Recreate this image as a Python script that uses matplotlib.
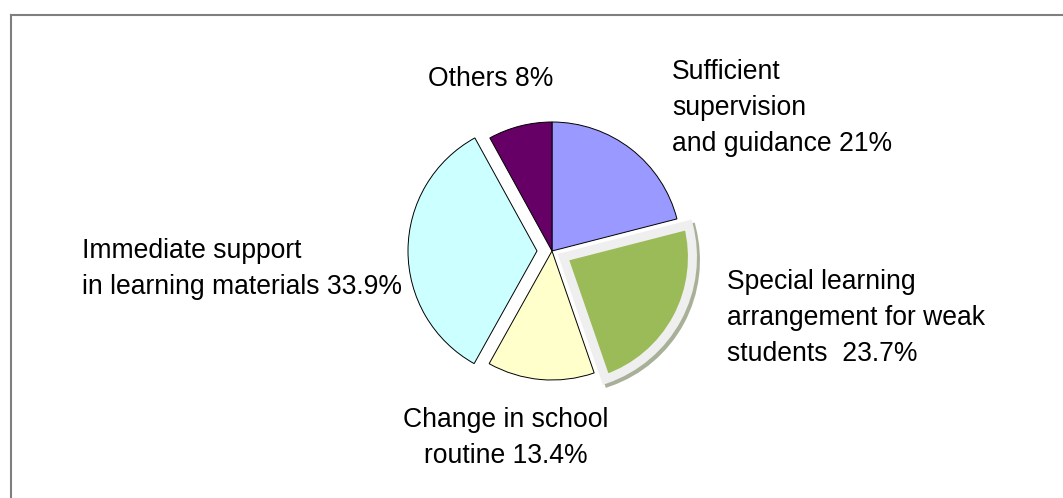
import matplotlib
matplotlib.use("Agg")
import matplotlib.pyplot as plt
from matplotlib.patches import Wedge
from matplotlib.lines import Line2D

# Survey shares, clockwise from 12 o'clock
categories = [
    "Sufficient\nsupervision\nand guidance",
    "Special learning\narrangement for weak\nstudents ",
    "Change in school\nroutine",
    "Immediate support\nin learning materials",
    "Others",
]
values = [21, 23.7, 13.4, 33.9, 8]
colors = ["#9999ff", "#9bbb59", "#ffffcc", "#ccffff", "#660066"]

W, H = 1063, 498
R = 129                      # pie radius in pixels
explode_px = [0, 13, 0, 15, 0]

fig = plt.figure(figsize=(W / 100, H / 100), dpi=100)
ax = fig.add_axes([0, 0, 1, 1])

wedges, _ = ax.pie(
    values,
    colors=colors,
    explode=explode_px,
    startangle=90,
    counterclock=False,
    center=(552, 247),
    radius=R,
    wedgeprops=dict(edgecolor="black", linewidth=0.7),
)
ax.set_xlim(0, W)
ax.set_ylim(0, H)
ax.set_aspect("auto")
ax.axis("off")

# Highlighted slice: light grey rim plus a soft drop shadow
hl = wedges[1]
hl.set_edgecolor("#efefef")
hl.set_linewidth(6.5)
hl.set_joinstyle("miter")
hl.set_zorder(3)
cx, cy = hl.center
shadow = Wedge((cx + 3, cy - 3), hl.r, hl.theta1, hl.theta2,
               facecolor="#a8b098", edgecolor="#a8b098", linewidth=6.5,
               joinstyle="miter", zorder=2)
ax.add_patch(shadow)

font = dict(family=["Liberation Sans", "DejaVu Sans"], fontsize=19.1,
            color="black", linespacing=1.48)

def label(i):
    return f"{categories[i]} {values[i]:g}%"

ax.text(491, H - 79, label(4), ha="center", va="center", **font)
ax.text(672, H - 108, label(0), ha="left", va="center", **font)
ax.text(727, H - 318, label(1), ha="left", va="center", **font)
ax.text(506, H - 438, label(2), ha="center", va="center", **font)
ax.text(82, H - 269, label(3), ha="left", va="center", **font)

# Chart-area frame (right and bottom edges fall outside the canvas)
frame_kw = dict(color="#7f7f7f", linewidth=1.5, transform=ax.transData,
                solid_capstyle="projecting")
ax.add_line(Line2D([11, 11], [-10, H - 15], **frame_kw))
ax.add_line(Line2D([11, W + 10], [H - 15, H - 15], **frame_kw))

fig.savefig("out.png", dpi=100, facecolor="white")
